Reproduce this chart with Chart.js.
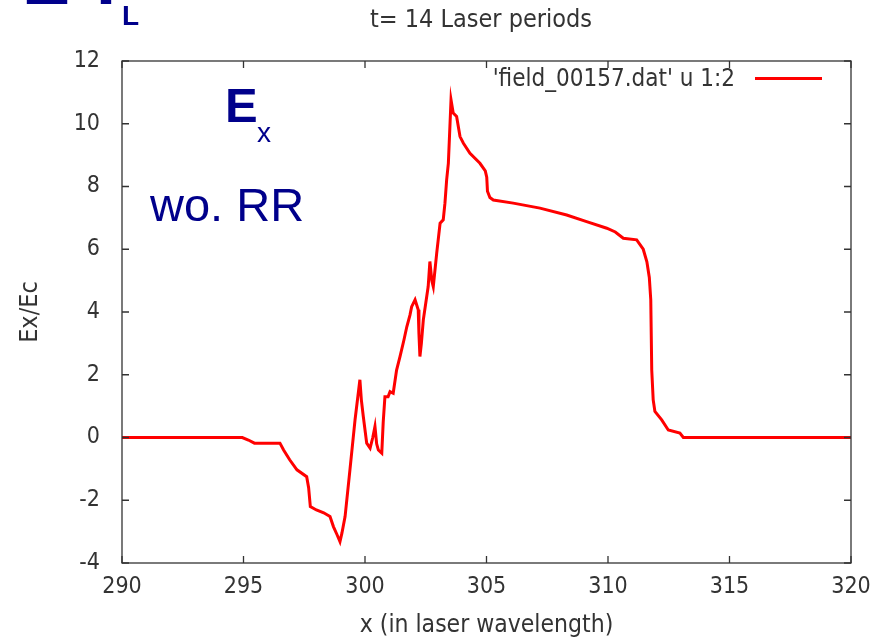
<!DOCTYPE html>
<html>
<head>
<meta charset="utf-8">
<script src="https://cdn.jsdelivr.net/npm/chart.js@4/dist/chart.umd.min.js"></script>
<style>
  html, body { margin: 0; padding: 0; background: #ffffff; }
  #wrap { width: 876px; height: 641px; position: relative; }
</style>
</head>
<body>
<div id="wrap"><canvas id="c" width="876" height="641"></canvas></div>
<script>
// ---- data ----
const xPositions = [
  290, 294.95, 295.2, 295.45, 296.5, 296.65, 296.9, 297.2, 297.6, 297.68,
  297.75, 298.0, 298.3, 298.56, 298.7, 298.85, 298.97, 299.05, 299.18, 299.38,
  299.59, 299.79, 299.85, 299.93, 300.07, 300.21, 300.32, 300.41, 300.48, 300.55,
  300.69, 300.75, 300.82, 300.95, 301.03, 301.16, 301.3, 301.44, 301.6, 301.72,
  301.85, 301.92, 302.06, 302.19, 302.22, 302.26, 302.32, 302.4, 302.6, 302.67,
  302.75, 302.81, 302.95, 303.09, 303.22, 303.29, 303.36, 303.43, 303.5, 303.54,
  303.63, 303.77, 303.91, 304.05, 304.32, 304.73, 304.95, 305.01, 305.04, 305.14,
  305.28, 306.1, 307.2, 308.3, 309.12, 309.95, 310.3, 310.63, 311.18, 311.45,
  311.6, 311.7, 311.76, 311.8, 311.86, 311.93, 312.21, 312.48, 312.96, 313.1,
  320
];
const exValues = [
  0, 0, -0.08, -0.18, -0.18, -0.4, -0.71, -1.03, -1.25, -1.6,
  -2.2, -2.31, -2.4, -2.52, -2.84, -3.1, -3.32, -3.05, -2.52, -1.03,
  0.56, 1.84, 1.2, 0.67, -0.18, -0.34, 0.0, 0.35, -0.2, -0.4,
  -0.5, 0.5, 1.3, 1.3, 1.46, 1.41, 2.15, 2.58, 3.1, 3.53,
  3.9, 4.17, 4.39, 4.07, 3.3, 2.58, 3.0, 3.75, 4.81, 5.61,
  5.0, 4.81, 5.87, 6.83, 6.94, 7.47, 8.21, 8.74, 10.02, 10.76,
  10.34, 10.23, 9.59, 9.38, 9.06, 8.74, 8.5, 8.3, 7.85, 7.65,
  7.57, 7.47, 7.31, 7.09, 6.88, 6.67, 6.55, 6.35, 6.3, 6.0,
  5.6, 5.1, 4.39, 2.15, 1.2, 0.83, 0.56, 0.24, 0.14, 0.0,
  0
];
const xTickValues = [290, 295, 300, 305, 310, 315, 320];
const yTickValues = [-4, -2, 0, 2, 4, 6, 8, 10, 12];
const seriesLabel = "'field_00157.dat' u 1:2";
const plotTitle = "t= 14 Laser periods";
const xTitle = "x (in laser wavelength)";
const yTitle = "Ex/Ec";

const points = xPositions.map((x, i) => ({ x: x, y: exValues[i] }));

const GP_FONT = "'DejaVu Sans Condensed', 'DejaVu Sans', sans-serif";
const TEXT_COLOR = '#333333';
const NAVY = '#00008b';

const decorPlugin = {
  id: 'decor',
  afterDraw(chart) {
    const ctx = chart.ctx;
    const a = chart.chartArea;
    const xs = chart.scales.x, ys = chart.scales.y;
    ctx.save();
    // frame
    ctx.strokeStyle = '#333333';
    ctx.lineWidth = 1.3;
    ctx.strokeRect(a.left, a.top, a.right - a.left, a.bottom - a.top);
    // inward ticks on all four sides
    const tl = 7;
    ctx.beginPath();
    xs.ticks.forEach(t => {
      const px = xs.getPixelForValue(t.value);
      ctx.moveTo(px, a.bottom); ctx.lineTo(px, a.bottom - tl);
      ctx.moveTo(px, a.top); ctx.lineTo(px, a.top + tl);
    });
    ys.ticks.forEach(t => {
      const py = ys.getPixelForValue(t.value);
      ctx.moveTo(a.left, py); ctx.lineTo(a.left + tl, py);
      ctx.moveTo(a.right, py); ctx.lineTo(a.right - tl, py);
    });
    ctx.stroke();

    // plot title
    ctx.fillStyle = TEXT_COLOR;
    ctx.font = "25px " + GP_FONT;
    ctx.textAlign = 'center';
    ctx.textBaseline = 'alphabetic';
    ctx.fillText(plotTitle, 481, 27);

    // key (legend) inside the plot
    ctx.textAlign = 'right';
    ctx.font = "24px " + GP_FONT;
    ctx.fillText(seriesLabel, 735, 86);
    ctx.strokeStyle = '#ff0000';
    ctx.lineWidth = 3;
    ctx.beginPath();
    ctx.moveTo(755, 78.5); ctx.lineTo(822, 78.5);
    ctx.stroke();

    // navy annotations
    ctx.fillStyle = NAVY;
    ctx.textAlign = 'left';
    ctx.font = "bold 49px 'Liberation Sans', Arial, sans-serif";
    ctx.fillText('E', 225, 122);
    ctx.font = "28px 'Liberation Sans', Arial, sans-serif";
    ctx.fillText('x', 257, 142);
    ctx.font = "47px 'Liberation Sans', Arial, sans-serif";
    ctx.fillText('wo. RR', 150, 221);

    // cut-off heading at the very top-left
    ctx.font = "bold 72px 'Liberation Sans', Arial, sans-serif";
    ctx.fillText('E', 22, 4);
    ctx.fillText('T', 84, 4);
    ctx.font = "bold 28px 'Liberation Sans', Arial, sans-serif";
    ctx.fillText('L', 122, 25);
    ctx.restore();
  }
};

new Chart(document.getElementById('c'), {
  type: 'line',
  data: {
    datasets: [{
      label: seriesLabel,
      data: points,
      borderColor: '#ff0000',
      backgroundColor: '#ff0000',
      borderWidth: 3,
      pointRadius: 0,
      tension: 0,
      fill: false
    }]
  },
  options: {
    responsive: false,
    animation: false,
    devicePixelRatio: 1,
    layout: { padding: { top: 61, right: 25, left: 0, bottom: 0 } },
    plugins: {
      legend: { display: false },
      title: { display: false },
      tooltip: { enabled: false }
    },
    scales: {
      x: {
        type: 'linear',
        min: 290, max: 320,
        afterBuildTicks(s) { s.ticks = xTickValues.map(v => ({ value: v })); },
        afterFit(s) { s.height = 78; s.paddingLeft = 0; s.paddingRight = 0; },
        grid: { display: false, drawTicks: false },
        border: { display: false },
        ticks: {
          color: TEXT_COLOR,
          font: { family: GP_FONT, size: 23 },
          padding: 10,
          maxRotation: 0
        },
        title: {
          display: true,
          text: xTitle,
          color: TEXT_COLOR,
          font: { family: GP_FONT, size: 24.5 },
          padding: { top: 0, bottom: 1 }
        }
      },
      y: {
        type: 'linear',
        min: -4, max: 12,
        afterBuildTicks(s) { s.ticks = yTickValues.map(v => ({ value: v })); },
        afterFit(s) { s.width = 122; s.paddingTop = 0; s.paddingBottom = 0; },
        grid: { display: false, drawTicks: false },
        border: { display: false },
        ticks: {
          color: TEXT_COLOR,
          font: { family: GP_FONT, size: 23 },
          padding: 22
        },
        title: {
          display: true,
          text: yTitle,
          color: TEXT_COLOR,
          font: { family: GP_FONT, size: 25 },
          padding: { top: 15, bottom: 0 }
        }
      }
    }
  },
  plugins: [decorPlugin]
});
</script>
</body>
</html>
